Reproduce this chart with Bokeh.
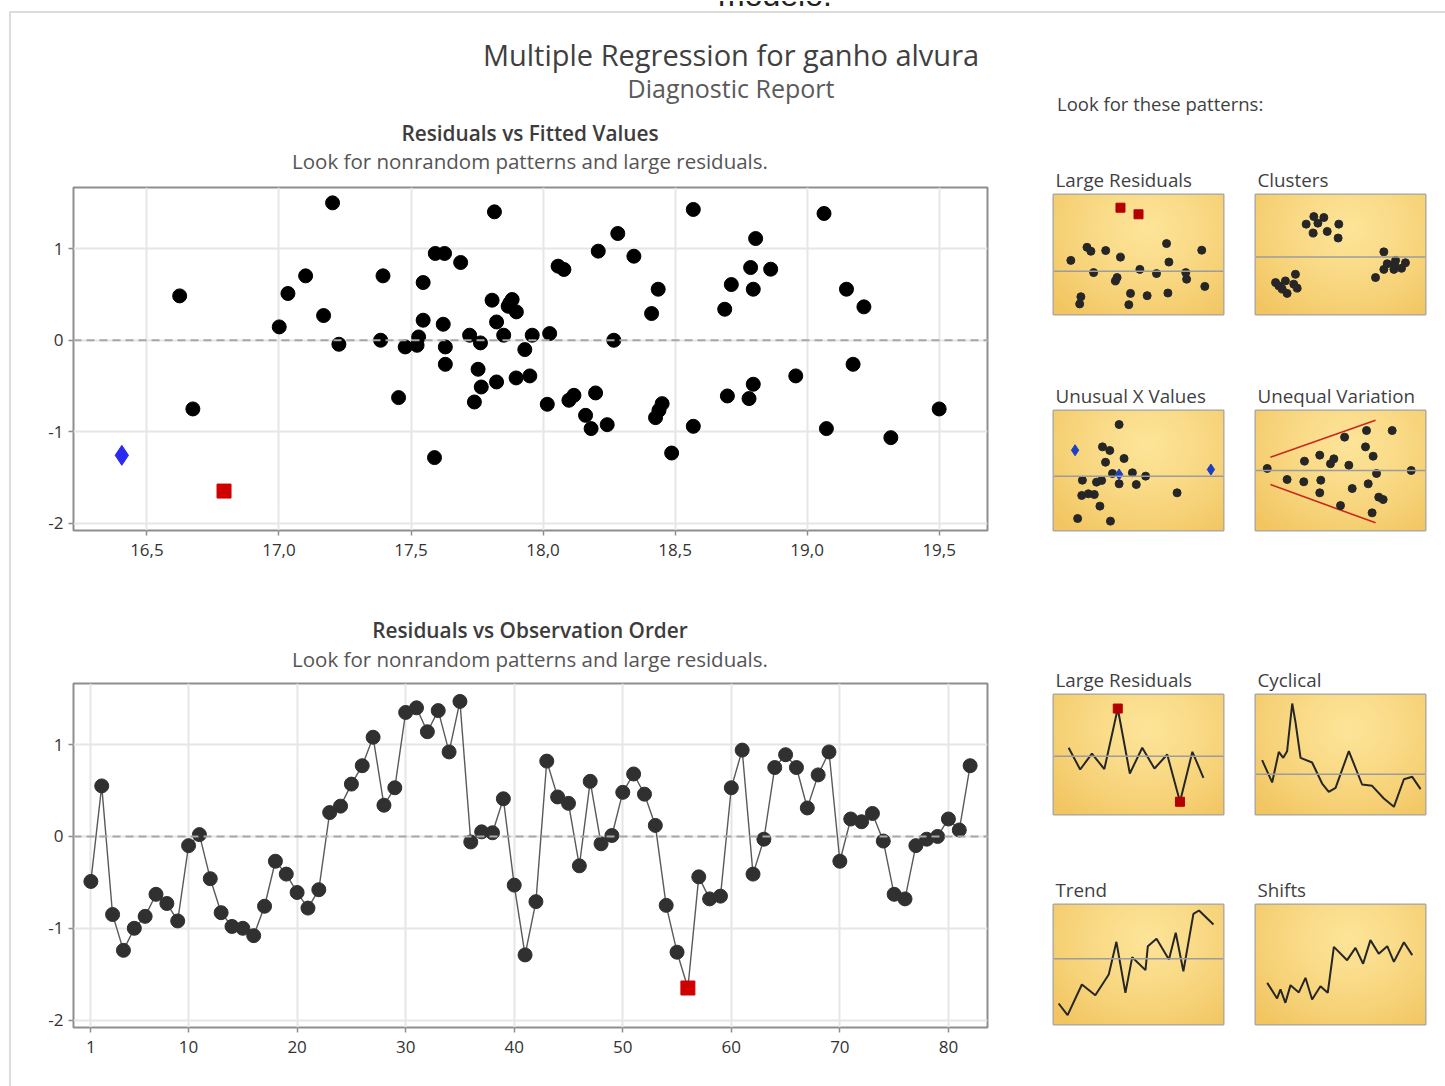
import numpy as np
from bokeh.plotting import figure
from bokeh.layouts import column, row
from bokeh.models import Div, Spacer, Span, Title, FixedTicker, CustomJSTickFormatter
from bokeh.embed import file_html
from bokeh.resources import INLINE

FONT = "Open Sans"

# ---------------- Residuals vs Fitted Values ----------------
fitted = [17.203, 16.624, 17.101, 17.034, 17.394, 17.169, 17.001, 17.227, 17.385, 16.674,
          17.816, 17.592, 17.627, 17.688, 17.546, 17.807, 17.883, 17.868, 17.899, 17.875,
          17.546, 17.622, 17.824, 17.851, 17.478, 17.529, 17.523, 17.630, 17.630, 17.722,
          17.763, 17.959, 17.931, 18.025, 17.754, 17.766, 17.824, 17.740, 17.898, 17.950,
          17.453, 17.589, 18.057, 18.079, 18.209, 18.283, 18.344, 18.436, 18.411, 18.268,
          18.569, 18.016, 18.098, 18.117, 18.199, 18.161, 18.182, 18.243, 18.451, 18.439,
          18.426, 18.569, 18.487,
          19.064, 18.805, 18.786, 18.862, 18.713, 18.796, 18.688, 19.149, 19.215, 19.174,
          18.957, 18.796, 18.698, 18.780, 19.073, 19.317, 19.500]
resid_fit = [1.502, 0.485, 0.704, 0.511, 0.704, 0.270, 0.146, -0.044, 0.000, -0.751,
             1.404, 0.949, 0.949, 0.850, 0.631, 0.438, 0.445, 0.372, 0.310, 0.410,
             0.219, 0.175, 0.200, 0.055, -0.073, 0.036, -0.055, -0.073, -0.263, 0.055,
             -0.029, 0.055, -0.102, 0.073, -0.317, -0.511, -0.456, -0.675, -0.412, -0.390,
             -0.627, -1.283, 0.810, 0.774, 0.974, 1.167, 0.919, 0.558, 0.292, 0.000,
             1.430, -0.700, -0.656, -0.602, -0.576, -0.821, -0.966, -0.923, -0.693, -0.766,
             -0.846, -0.941, -1.233,
             1.386, 1.112, 0.795, 0.777, 0.609, 0.558, 0.339, 0.558, 0.365, -0.263,
             -0.390, -0.481, -0.609, -0.638, -0.966, -1.065, -0.751]
unusual_x_fitted = [16.405]
unusual_x_resid = [-1.258]
large_resid_fitted = [16.792]
large_resid_resid = [-1.649]
fitted_ticks = [16.5, 17.0, 17.5, 18.0, 18.5, 19.0, 19.5]

# ---------------- Residuals vs Observation Order ----------------
order_resid = [-0.49, 0.55, -0.85, -1.24, -1.00, -0.87, -0.63, -0.73, -0.92, -0.10,
               0.02, -0.46, -0.83, -0.98, -1.00, -1.08, -0.76, -0.27, -0.41, -0.61,
               -0.78, -0.58, 0.26, 0.33, 0.57, 0.77, 1.08, 0.34, 0.53, 1.35,
               1.40, 1.14, 1.37, 0.92, 1.47, -0.06, 0.05, 0.04, 0.41, -0.53,
               -1.29, -0.71, 0.82, 0.43, 0.36, -0.32, 0.60, -0.08, 0.01, 0.48,
               0.68, 0.46, 0.12, -0.75, -1.26, -1.65, -0.44, -0.68, -0.65, 0.53,
               0.94, -0.41, -0.03, 0.75, 0.89, 0.75, 0.31, 0.67, 0.92, -0.27,
               0.19, 0.16, 0.25, -0.05, -0.63, -0.68, -0.10, -0.03, 0.00, 0.19,
               0.07, 0.77]
large_resid_obs = [56]
order_ticks = [1, 10, 20, 30, 40, 50, 60, 70, 80]
resid_ticks = [-2, -1, 0, 1]

# ---------------- Pattern thumbnails (unit coordinates) ----------------
p_large_x = [.102, .197, .220, .307, .394, .665, .872, .236, .374, .364, .508,
             .606, .679, .778, .783, .890, .161, .154, .453, .443, .551, .673]
p_large_y = [.451, .560, .527, .533, .478, .591, .536, .349, .308, .280, .376,
             .341, .437, .349, .294, .234, .148, .088, .176, .082, .157, .179]
p_large_out_x = [.394, .500]
p_large_out_y = [.890, .835]
p_large_ref = 0.36

p_clu_x = [.343, .402, .367, .298, .490, .339, .422, .486,
           .755, .824, .775, .882, .755, .814, .859, .706, .818,
           .118, .176, .235, .157, .186, .245, .225, .137]
p_clu_y = [.816, .808, .761, .753, .753, .679, .692, .637,
           .522, .451, .423, .431, .376, .376, .385, .308, .418,
           .266, .280, .335, .212, .176, .220, .253, .239]
p_clu_ref = 0.48

p_ux_x = [.386, .288, .331, .415, .306, .347, .464, .542, .386, .487,
          .170, .253, .283, .166, .205, .240, .273, .142, .335, .727]
p_ux_y = [.883, .697, .667, .600, .569, .475, .481, .453, .389, .383,
          .419, .403, .417, .292, .306, .300, .203, .100, .078, .314]
p_ux_out_x = [.127, .386, .926]
p_ux_out_y = [.669, .467, .508]
p_ux_ref = 0.453

p_uv_x = [.069, .186, .284, .384, .288, .378, .461, .441, .549, .524, .653, .804,
          .647, .692, .712, .663, .569, .378, .725, .751, .500, .686, .916]
p_uv_y = [.517, .425, .406, .419, .578, .628, .597, .556, .544, .778, .833, .833,
          .697, .619, .475, .389, .350, .314, .278, .258, .208, .147, .500]
p_uv_upper_x = [.088, .706]
p_uv_upper_y = [.611, .919]
p_uv_lower_x = [.088, .706]
p_uv_lower_y = [.383, .064]
p_uv_ref = 0.50

s_large_x = [.089, .157, .226, .299, .378, .449, .522, .594, .669, .744, .817, .882]
s_large_y = [.556, .375, .508, .378, .883, .342, .556, .383, .500, .106, .522, .306]
s_large_out = [4, 9]
s_large_ref = 0.486

s_cyc_x = [.039, .098, .137, .163, .186, .216, .235, .265, .333, .392, .431, .471,
           .549, .627, .686, .755, .814, .873, .922, .971]
s_cyc_y = [.453, .267, .522, .472, .528, .925, .772, .472, .433, .258, .189, .222,
           .528, .250, .239, .133, .064, .294, .314, .211]
s_cyc_ref = 0.336

s_trend_x = [.030, .083, .167, .246, .325, .370, .423, .463, .541, .555, .606,
             .679, .719, .764, .823, .856, .941]
s_trend_y = [.175, .078, .333, .244, .417, .689, .264, .561, .453, .653, .714,
             .542, .764, .444, .922, .950, .833]
s_trend_ref = 0.547

s_shift_x = [.069, .127, .147, .176, .206, .255, .294, .333, .382, .425,
             .461, .539, .588, .633, .676, .725, .775, .814, .873, .922]
s_shift_y = [.347, .217, .292, .181, .328, .267, .389, .208, .319, .264,
             .647, .536, .639, .506, .703, .589, .653, .522, .686, .578]

# ---------------- helpers ----------------
GRID = "#e6e6e6"
FRAME = "#8e8e8e"


def style_main(p, xticks, yticks):
    p.outline_line_color = FRAME
    p.outline_line_width = 2
    p.border_fill_color = "white"
    p.background_fill_color = "white"
    p.xaxis.ticker = FixedTicker(ticks=xticks)
    p.yaxis.ticker = FixedTicker(ticks=yticks)
    p.xgrid.ticker = FixedTicker(ticks=xticks)
    p.ygrid.ticker = FixedTicker(ticks=yticks)
    p.yaxis.formatter = CustomJSTickFormatter(code="return String(tick);")
    for ax in (p.xaxis[0], p.yaxis[0]):
        ax.axis_line_color = None
        ax.major_tick_line_color = FRAME
        ax.major_tick_line_width = 1.5
        ax.major_tick_out = 5
        ax.major_tick_in = 0
        ax.minor_tick_line_color = None
        ax.major_label_text_font = FONT
        ax.major_label_text_font_size = "17px"
        ax.major_label_text_color = "#333333"
        ax.major_label_standoff = 5
    p.xaxis.major_label_standoff = 8
    p.grid.grid_line_color = GRID
    p.grid.grid_line_width = 2
    p.add_layout(Span(location=0, dimension="width", line_color="#a8a8a8",
                      line_dash="8 5", line_width=2))


def title_block(title, subtitle, height, title_top, sub_top):
    # heading lines centred over the plot frame (frame spans 914 px after a 62 px gutter)
    d = Div(width=914, height=height, margin=0, text=f"""
<div style="position:relative;width:914px;height:{height}px;font-family:'{FONT}';white-space:nowrap;">
  <div style="position:absolute;left:0;top:{title_top}px;width:914px;text-align:center;font-size:20.8px;line-height:21px;font-weight:600;color:#3c3c3c;">{title}</div>
  <div style="position:absolute;left:0;top:{sub_top}px;width:914px;text-align:center;font-size:20.5px;line-height:21px;color:#555555;">{subtitle}</div>
</div>""")
    return row(Spacer(width=62, height=height), d, Spacer(width=53, height=height))


SUB = "Look for nonrandom patterns and large residuals."

# ---------------- Residuals vs Fitted Values ----------------
p1 = figure(width=1029, height=385, output_backend="svg", toolbar_location=None,
            x_range=(16.222, 19.683), y_range=(-2.08, 1.67),
            min_border_left=62, min_border_right=53, min_border_top=12, min_border_bottom=30)
style_main(p1, fitted_ticks, resid_ticks)
p1.xaxis.formatter = CustomJSTickFormatter(code="return tick.toFixed(1).replace('.', ',');")
p1.scatter(fitted, resid_fit, marker="circle", size=14, fill_color="black", line_color="black")
p1.scatter(unusual_x_fitted, unusual_x_resid, marker="diamond", size=20,
           fill_color="#2a2af2", line_color="#2a2af2")
p1.scatter(large_resid_fitted, large_resid_resid, marker="square", size=14,
           fill_color="#d10000", line_color="#d10000")
head1 = title_block("Residuals vs Fitted Values", SUB, 55, 3, 31)

# ---------------- Residuals vs Observation Order ----------------
obs = np.arange(1, len(order_resid) + 1)
res = np.array(order_resid)
flag = np.isin(obs, large_resid_obs)

p2 = figure(width=1029, height=411, output_backend="svg", toolbar_location=None,
            x_range=(-0.6, 83.6), y_range=(-2.08, 1.665),
            min_border_left=62, min_border_right=53, min_border_top=8, min_border_bottom=59)
style_main(p2, order_ticks, resid_ticks)
p2.line(obs, res, line_color="#5a5a5a", line_width=1.4)
p2.scatter(obs[~flag], res[~flag], marker="circle", size=14, fill_color="#303030", line_color="#303030")
p2.scatter(obs[flag], res[flag], marker="square", size=14, fill_color="#d10000", line_color="#d10000")
head2 = title_block("Residuals vs Observation Order", SUB, 115, 60, 89)

# ---------------- gold backdrop for thumbnails ----------------
gy, gx = np.mgrid[0:1:60j, 0:1:84j]
dist = np.sqrt(((gx - 0.55) / 0.75) ** 2 + ((gy - 0.72) / 0.95) ** 2).clip(0, 1)
light = np.array([253, 228, 152])
dark = np.array([242, 197, 96])
rgb = light + (dark - light) * (dist[..., None] ** 1.3)
GOLD = np.empty((60, 84), dtype=np.uint32)
gview = GOLD.view(dtype=np.uint8).reshape((60, 84, 4))
gview[..., :3] = rgb.astype(np.uint8)
gview[..., 3] = 255

DOT = "#262626"


def thumb(label):
    t = figure(width=174, height=153, output_backend="svg", toolbar_location=None,
               x_range=(0, 1), y_range=(0, 1), x_axis_type=None, y_axis_type=None,
               min_border_left=2, min_border_right=2, min_border_top=30, min_border_bottom=2)
    t.grid.visible = False
    t.outline_line_color = "#a3a3a3"
    t.outline_line_width = 2
    t.border_fill_color = "white"
    t.image_rgba(image=[GOLD], x=0, y=0, dw=1, dh=1)
    t.add_layout(Title(text=label, align="left", text_font=FONT, text_font_size="18.8px",
                       text_font_style="normal", text_color="#3f3f3f", offset=2, standoff=3), "above")
    return t


def ref(t, y):
    t.add_layout(Span(location=y, dimension="width", line_color="#9c9c9c", line_width=1.5))


t1 = thumb("Large Residuals")
ref(t1, p_large_ref)
t1.scatter(p_large_x, p_large_y, size=8, color=DOT)
t1.scatter(p_large_out_x, p_large_out_y, marker="square", size=9, color="#b40000")

t2 = thumb("Clusters")
ref(t2, p_clu_ref)
t2.scatter(p_clu_x, p_clu_y, size=8, color=DOT)

t3 = thumb("Unusual X Values")
ref(t3, p_ux_ref)
t3.scatter(p_ux_x, p_ux_y, size=8, color=DOT)
t3.scatter(p_ux_out_x, p_ux_out_y, marker="diamond", size=11, color="#1c3fc4")

t4 = thumb("Unequal Variation")
ref(t4, p_uv_ref)
t4.line(p_uv_upper_x, p_uv_upper_y, line_color="#c8281e", line_width=1.6)
t4.line(p_uv_lower_x, p_uv_lower_y, line_color="#c8281e", line_width=1.6)
t4.scatter(p_uv_x, p_uv_y, size=8, color=DOT)

t5 = thumb("Large Residuals")
ref(t5, s_large_ref)
t5.line(s_large_x, s_large_y, line_color=DOT, line_width=2)
t5.scatter([s_large_x[i] for i in s_large_out], [s_large_y[i] for i in s_large_out],
           marker="square", size=9, color="#b40000")

t6 = thumb("Cyclical")
ref(t6, s_cyc_ref)
t6.line(s_cyc_x, s_cyc_y, line_color=DOT, line_width=2)

t7 = thumb("Trend")
ref(t7, s_trend_ref)
t7.line(s_trend_x, s_trend_y, line_color=DOT, line_width=2)

t8 = thumb("Shifts")
t8.line(s_shift_x, s_shift_y, line_color=DOT, line_width=2)


def pair(a, b):
    return row(Spacer(width=11, height=153), a, Spacer(width=28, height=153), b)


right = column(Spacer(width=405, height=43), pair(t1, t2),
               Spacer(width=405, height=63), pair(t3, t4),
               Spacer(width=405, height=28 + 103), pair(t5, t6),
               Spacer(width=405, height=57), pair(t7, t8),
               Spacer(width=405, height=60))

header = Div(width=1434, height=107, margin=0, text=f"""
<div style="position:relative;width:1434px;height:107px;font-family:'{FONT}';white-space:nowrap;">
  <div style="position:absolute;left:0;top:27px;width:1440px;text-align:center;font-size:29px;line-height:29px;color:#404040;">Multiple Regression for ganho alvura</div>
  <div style="position:absolute;left:0;top:63px;width:1440px;text-align:center;font-size:25px;line-height:25px;color:#5a5a5a;">Diagnostic Report</div>
  <div style="position:absolute;left:1046px;top:82px;font-size:18.5px;line-height:18.5px;color:#3f3f3f;">Look for these patterns:</div>
</div>""")

top_note = Div(width=1445, height=11, margin=0, text="""
<div style="position:relative;width:1445px;height:11px;overflow:hidden;">
  <div style="position:absolute;left:718px;top:-22px;font-family:'Liberation Sans';font-size:32px;line-height:32px;color:#222;">modelo.</div>
</div>""")

top_rule = row(Spacer(width=9, height=2),
               Div(width=1436, height=2, margin=0, text="", styles={"background-color": "#dcdcdc"}))
left_rule = Div(width=2, height=1073, margin=0, text="", styles={"background-color": "#dcdcdc"})

left = column(head1, p1, head2, p2)
body = row(Spacer(width=9, height=1073), left_rule,
           column(header, row(left, right)))

page = column(top_note, top_rule, body)

open("out.html", "w").write(file_html(page, INLINE))
